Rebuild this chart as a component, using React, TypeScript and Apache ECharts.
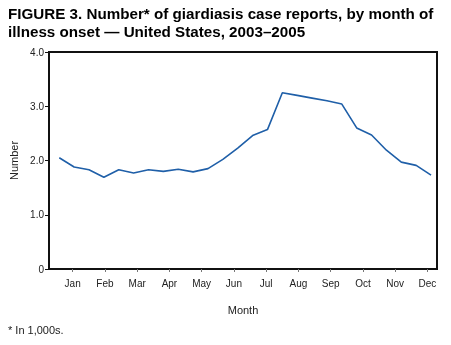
import React, { useEffect, useRef } from "react";
import * as echarts from "echarts";

const months = ["Jan", "Feb", "Mar", "Apr", "May", "Jun", "Jul", "Aug", "Sep", "Oct", "Nov", "Dec"];
const monthTicks = [0, 1, 2, 3, 4, 5, 6, 7, 8, 9, 10, 11];
// 26 two-week reporting periods across the year (cases in 1,000s)
const periodValues = [
  2.05, 1.88, 1.83, 1.69, 1.83, 1.77, 1.83, 1.8, 1.84, 1.79, 1.85, 2.02, 2.23,
  2.46, 2.57, 3.25, 3.2, 3.15, 3.1, 3.04, 2.6, 2.47, 2.19, 1.97, 1.91, 1.73,
];
const yTicks = ["0", "1.0", "2.0", "3.0", "4.0"];

export default function App() {
  const ref = useRef<HTMLDivElement>(null);
  useEffect(() => {
    if (!ref.current) return;
    const chart = echarts.init(ref.current, null, { renderer: "svg" });
    const font = "'Liberation Sans', Arial, Helvetica, sans-serif";
    chart.setOption({
      animation: false,
      textStyle: { fontFamily: font },
      title: {
        text: "FIGURE 3. Number* of giardiasis case reports, by month of\nillness onset — United States, 2003–2005",
        left: 8,
        top: 5,
        padding: 0,
        textStyle: { fontFamily: font, fontSize: 15.2, fontWeight: "bold", color: "#000", lineHeight: 17.5 },
      },
      graphic: [
        {
          type: "text",
          left: 8,
          top: 324,
          style: { text: "* In 1,000s.", fontFamily: font, fontSize: 11, fill: "#222" },
        },
      ],
      grid: { left: 43, right: 14, top: 52, bottom: 76, show: true, borderColor: "#111", borderWidth: 2 },
      xAxis: [
        { type: "value", min: -0.69, max: 25.4, show: false, position: "top" },
        {
          type: "value",
          position: "bottom",
          min: -0.734,
          max: 11.297,
          axisLine: { show: true, onZero: false, lineStyle: { color: "#111", width: 2 } },
          axisTick: { show: true, customValues: monthTicks, length: 3, lineStyle: { color: "#777" } },
          axisLabel: {
            customValues: monthTicks,
            formatter: (v: number) => months[Math.round(v)],
            color: "#222",
            fontSize: 10,
            margin: 9,
          },
          splitLine: { show: false },
          name: "Month",
          nameLocation: "middle",
          nameGap: 35,
          nameTextStyle: { fontSize: 11, color: "#222" },
        },
      ],
      yAxis: {
        type: "value",
        min: 0,
        max: 4,
        interval: 1,
        axisLine: { show: true, onZero: false, lineStyle: { color: "#111", width: 2 } },
        axisTick: { show: true, length: 4, lineStyle: { color: "#111" } },
        axisLabel: { formatter: (v: number) => yTicks[Math.round(v)], color: "#222", fontSize: 10, margin: 5 },
        splitLine: { show: false },
        name: "Number",
        nameLocation: "middle",
        nameRotate: 90,
        nameGap: 30,
        nameTextStyle: { fontSize: 11, color: "#222" },
      },
      series: [
        {
          type: "line",
          xAxisIndex: 0,
          data: periodValues.map((v, i) => [i, v]),
          showSymbol: false,
          lineStyle: { color: "#1f5fa8", width: 1.6 },
        },
      ],
    });
    return () => chart.dispose();
  }, []);
  return <div ref={ref} style={{ position: "fixed", left: 0, top: 0, width: 451, height: 345 }} />;
}
